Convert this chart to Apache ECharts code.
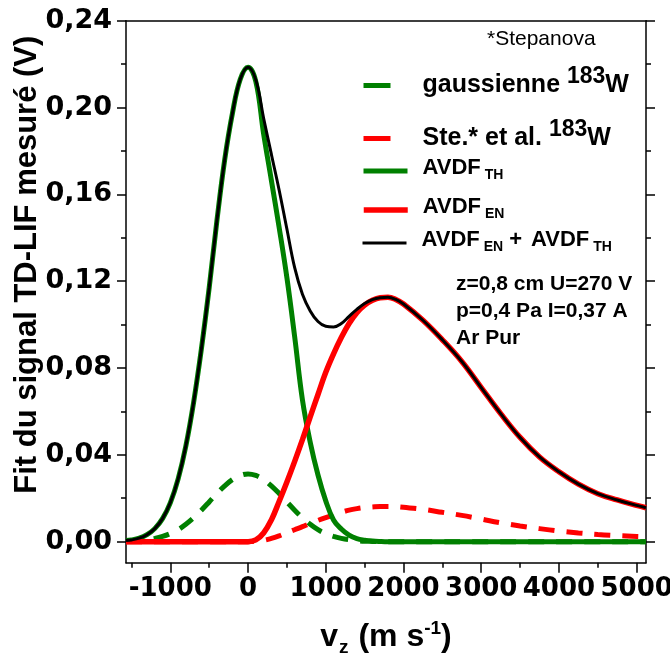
<!DOCTYPE html>
<html><head><meta charset="utf-8">
<script src="https://cdn.jsdelivr.net/npm/echarts@6/dist/echarts.min.js"></script>
<style>html,body{margin:0;padding:0;background:#fff}#c{width:670px;height:655px}</style>
</head><body><div id="c"></div>
<script>
// velocity grid (m/s)
const vz = [-1570,-1500,-1400,-1300,-1200,-1100,-1000,-900,-800,-700,-600,-500,-400,-300,-200,-100,
  0,100,200,300,400,500,600,700,800,900,1000,1100,1200,1300,1400,1500,1600,1700,1800,1900,2000,
  2250,2500,2750,3000,3250,3500,3750,4000,4250,4500,4750,5000,5120];
// gaussienne 183W (dashed green)
const gaussienne = [0.0001,0.0002,0.0005,0.0009,0.0015,0.0024,0.0037,0.0055,0.0080,0.0110,0.0145,0.0183,0.0222,0.0257,0.0286,0.0305,
  0.0312,0.0305,0.0286,0.0257,0.0222,0.0183,0.0145,0.0110,0.0080,0.0055,0.0037,0.0024,0.0015,0.0009,0.0005,0.0002,0.0001,0,0,0,0,
  0,0,0,0,0,0,0,0,0,0,0,0,0];
// Ste.* et al. 183W (dashed red)
const stepanova = [0,0,0,0,0,0,0,0,0,0,0,0,0,0,0,0,
  0,0.0002,0.0006,0.0015,0.0027,0.0041,0.0055,0.0069,0.0084,0.0098,0.0111,0.0123,0.0135,0.0145,0.0152,0.0157,0.0160,0.0162,0.0162,0.0161,0.0158,
  0.0149,0.0135,0.0121,0.0104,0.0087,0.0072,0.0060,0.0049,0.0040,0.0033,0.0028,0.0024,0.0023];
// AVDF_TH (solid green)
const avdfTH = [0.0005,0.0008,0.0016,0.0032,0.0060,0.0106,0.0179,0.0288,0.0441,0.0642,0.0888,0.1169,0.1480,0.1760,0.1975,0.2130,
  0.2186,0.2120,0.1880,0.1665,0.1448,0.1216,0.0944,0.0653,0.0458,0.0307,0.0188,0.0100,0.0058,0.0030,0.0014,0.0007,0.0003,0.0001,0,0,0,
  0,0,0,0,0,0,0,0,0,0,0,0,0];
// AVDF_EN (solid red)
const avdfEN = [0,0,0,0,0,0,0,0,0,0,0,0,0,0,0,0,
  0,0.0008,0.0040,0.0100,0.0185,0.0275,0.0370,0.0470,0.0575,0.0678,0.0780,0.0865,0.0940,0.1005,0.1055,0.1090,0.1112,0.1124,0.1126,0.1116,0.1095,
  0.1020,0.0930,0.0830,0.0710,0.0590,0.0480,0.0390,0.0322,0.0265,0.0221,0.0192,0.0167,0.0156];
// AVDF_EN + AVDF_TH (black)
const avdfSum = [0.0005,0.0008,0.0016,0.0032,0.0060,0.0106,0.0179,0.0288,0.0441,0.0642,0.0888,0.1169,0.1480,0.1760,0.1975,0.2130,
  0.2186,0.2128,0.1952,0.1785,0.1620,0.1440,0.1262,0.1140,0.1063,0.1014,0.0992,0.0989,0.1005,0.1038,0.1070,0.1097,0.1115,0.1124,0.1126,0.1116,0.1095,
  0.1020,0.0930,0.0830,0.0710,0.0590,0.0480,0.0390,0.0322,0.0265,0.0221,0.0192,0.0167,0.0156];

const xTicks = [-1000,0,1000,2000,3000,4000,5000];
const xMinorTicks = [-1500,-500,500,1500,2500,3500,4500];
const yTicks = [0,0.04,0.08,0.12,0.16,0.20,0.24];
const yMinorTicks = [0.02,0.06,0.10,0.14,0.18,0.22];
const xRange = [-1570, 5120];
const yRange = [-0.0097, 0.24];

const FONT = 'Liberation Sans, Arial, sans-serif';
const TICKFONT = 'DejaVu Sans, Liberation Sans, sans-serif';
const GREEN = '#008000', RED = '#ff0000', BLACK = '#000000';
const pairs = arr => vz.map((v, i) => [v, arr[i]]);
const axisLine = {show: true, onZero: false, lineStyle: {color: BLACK, width: 1.5}};
const noLine = {show: false, onZero: false};
const tickStyle = {color: BLACK, width: 1.5};
const B = (size, extra) => Object.assign({fontSize: size, fontWeight: 'bold', fontFamily: FONT, color: BLACK}, extra || {});

const chart = echarts.init(document.getElementById('c'), null, {renderer: 'canvas'});

const legendRich = {
  g: {width: 10, lineHeight: 10, verticalAlign: 'bottom'},
  t: B(25, {lineHeight: 25, verticalAlign: 'bottom'}),
  sup: B(23, {lineHeight: 23, verticalAlign: 'bottom', padding: [0, 0, 10, 0]}),
  a: B(22, {lineHeight: 22, verticalAlign: 'bottom', padding: [0, 0, 3, 0]}),
  p: B(22, {lineHeight: 22, verticalAlign: 'bottom', padding: [0, 9, 3, 6]}),
  s: B(14, {lineHeight: 14, verticalAlign: 'bottom', padding: [0, 0, 0, 4]})
};
function legendItem(name, top, lineStyle, label) {
  return {
    show: true, selectedMode: false, data: [name], left: 361, top: top,
    orient: 'vertical', padding: 0, itemWidth: 44, itemHeight: 10,
    lineStyle: lineStyle, itemStyle: {opacity: 0},
    formatter: () => label,
    textStyle: {fontFamily: FONT, color: BLACK, rich: legendRich}
  };
}

const option = {
  animation: false,
  backgroundColor: '#fff',
  grid: {left: 126, right: 24, top: 20.7, bottom: 92.3, containLabel: false, outerBoundsMode: 'none'},
  xAxis: [
    {type: 'value', min: xRange[0], max: xRange[1], position: 'bottom', offset: 0,
     axisLine: axisLine, splitLine: {show: false},
     axisTick: {show: true, customValues: xTicks, length: 10, lineStyle: tickStyle},
     axisLabel: {show: true, customValues: xTicks, fontSize: 26, fontWeight: 'bold', color: BLACK, fontFamily: TICKFONT, margin: 14,
       hideOverlap: false, formatter: v => String(v)},
     name: '{b|v}{sub|z}{b| (m s}{sup|-1}{b|)}', nameLocation: 'middle', nameGap: 63, nameMoveOverlap: false,
     nameTextStyle: {rich: {
       b: B(32, {lineHeight: 32, verticalAlign: 'bottom', padding: [0, 0, 5, 0]}),
       sub: B(19, {lineHeight: 19, verticalAlign: 'bottom', padding: [0, 1, 0, 1]}),
       sup: B(19, {lineHeight: 19, verticalAlign: 'bottom', padding: [0, 0, 19, 0]})
     }}},
    {type: 'value', min: xRange[0], max: xRange[1], position: 'bottom', offset: 0,
     axisLine: noLine, splitLine: {show: false},
     axisTick: {show: true, customValues: xMinorTicks, length: 5, lineStyle: tickStyle},
     axisLabel: {show: false}},
    {type: 'value', min: xRange[0], max: xRange[1], position: 'top', offset: 0,
     axisLine: axisLine, splitLine: {show: false}, axisTick: {show: false}, axisLabel: {show: false}}
  ],
  yAxis: [
    {type: 'value', min: yRange[0], max: yRange[1], position: 'left', offset: 0,
     axisLine: axisLine, splitLine: {show: false},
     axisTick: {show: true, customValues: yTicks, length: 9, lineStyle: tickStyle},
     axisLabel: {show: true, customValues: yTicks, fontSize: 27, fontWeight: 'bold', color: BLACK, fontFamily: TICKFONT, margin: 14,
       formatter: v => v.toFixed(2).replace('.', ',')},
     name: 'Fit du signal TD-LIF mesuré (V)', nameLocation: 'middle', nameGap: 83, nameRotate: 90, nameMoveOverlap: false,
     nameTextStyle: B(31, {padding: [0, 0, 0, 54]})},
    {type: 'value', min: yRange[0], max: yRange[1], position: 'left', offset: 0,
     axisLine: noLine, splitLine: {show: false},
     axisTick: {show: true, customValues: yMinorTicks, length: 5, lineStyle: tickStyle},
     axisLabel: {show: false}},
    {type: 'value', min: yRange[0], max: yRange[1], position: 'right', offset: 0,
     axisLine: axisLine, splitLine: {show: false},
     axisTick: {show: true, customValues: yTicks, length: 9, lineStyle: tickStyle},
     axisLabel: {show: false}},
    {type: 'value', min: yRange[0], max: yRange[1], position: 'right', offset: 0,
     axisLine: noLine, splitLine: {show: false},
     axisTick: {show: true, customValues: yMinorTicks, length: 5, lineStyle: tickStyle},
     axisLabel: {show: false}}
  ],
  legend: [
    legendItem('gaussienne', 65, {width: 5, type: [27, 40]}, '{g|}{t|gaussienne }{sup|183}{t|W}'),
    legendItem('stepanova', 118, {width: 5, type: [27, 40]}, '{g|}{t|Ste.* et al. }{sup|183}{t|W}'),
    legendItem('th', 157, {width: 5}, '{g|}{a|AVDF}{s|TH}'),
    legendItem('en', 196, {width: 5.5}, '{g|}{a|AVDF}{s|EN}'),
    legendItem('sum', 229, {width: 3}, '{g|}{a|AVDF}{s|EN}{p|+}{a|AVDF}{s|TH}')
  ],
  graphic: [
    {type: 'text', left: 487, top: 29, style: {text: '*Stepanova', font: 'normal 21px ' + FONT, fill: BLACK}},
    {type: 'text', left: 456, top: 271, style: {text: 'z=0,8 cm U=270 V\np=0,4 Pa I=0,37 A\nAr Pur', font: 'bold 21px ' + FONT, fill: BLACK, lineHeight: 26.7}}
  ],
  series: [
    {name: 'gaussienne', type: 'line', data: pairs(gaussienne), symbol: 'none', smooth: 0.4,
     lineStyle: {color: GREEN, width: 5, type: [16, 12]}, itemStyle: {color: GREEN}, z: 2},
    {name: 'stepanova', type: 'line', data: pairs(stepanova), symbol: 'none', smooth: 0.4,
     lineStyle: {color: RED, width: 5, type: [16, 12]}, itemStyle: {color: RED}, z: 2},
    {name: 'th', type: 'line', data: pairs(avdfTH), symbol: 'none', smooth: 0.4,
     lineStyle: {color: GREEN, width: 5}, itemStyle: {color: GREEN}, z: 3},
    {name: 'en', type: 'line', data: pairs(avdfEN), symbol: 'none', smooth: 0.4,
     lineStyle: {color: RED, width: 5.5}, itemStyle: {color: RED}, z: 4},
    {name: 'sum', type: 'line', data: pairs(avdfSum), symbol: 'none', smooth: 0.4,
     lineStyle: {color: BLACK, width: 3}, itemStyle: {color: BLACK}, z: 5}
  ]
};
chart.setOption(option);
</script>
</body></html>
